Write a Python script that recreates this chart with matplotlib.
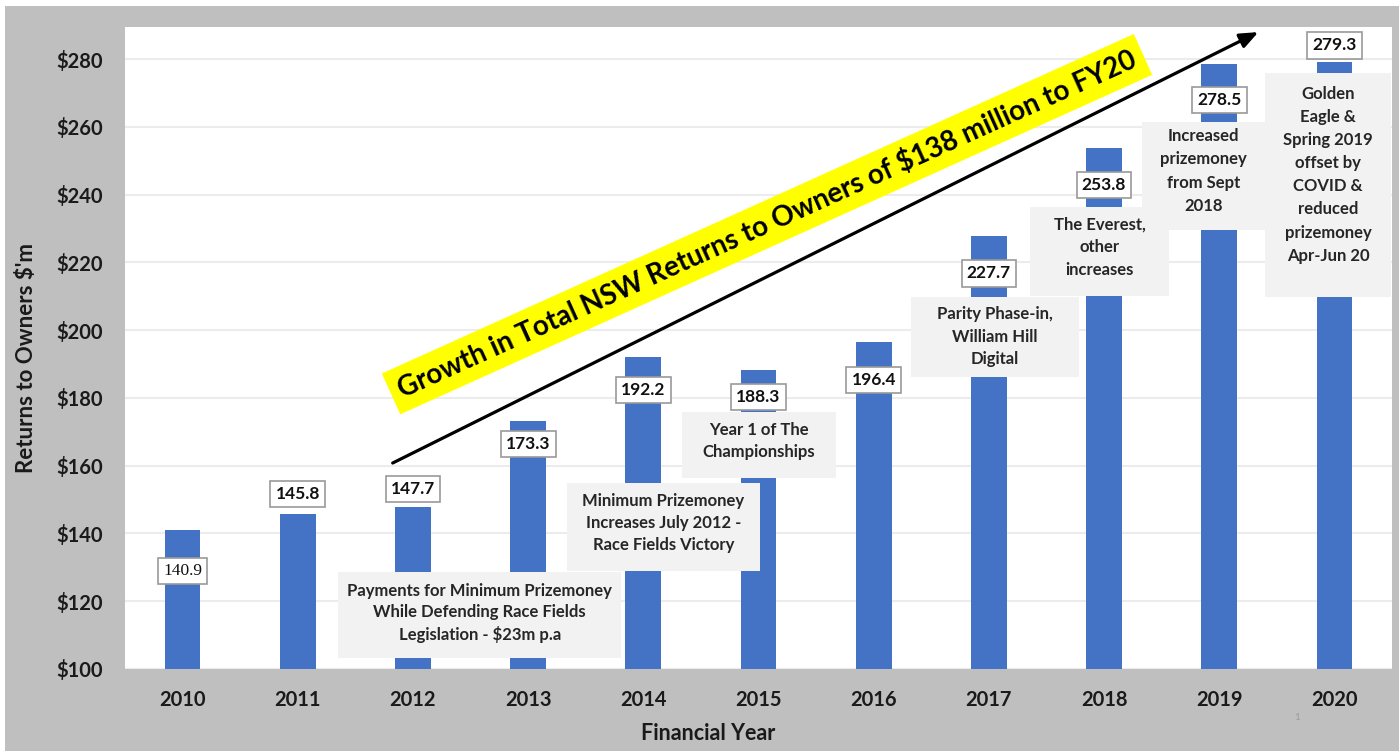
import matplotlib
matplotlib.use("Agg")
import matplotlib.pyplot as plt
from matplotlib.patches import Rectangle, FancyArrowPatch

# ---------------- data ----------------
years = ["2010", "2011", "2012", "2013", "2014", "2015", "2016", "2017", "2018", "2019", "2020"]
returns = [140.9, 145.8, 147.7, 173.3, 192.2, 188.3, 196.4, 227.7, 253.8, 278.5, 279.3]
value_labels = ["140.9", "145.8", "147.7", "173.3", "192.2", "188.3", "196.4", "227.7", "253.8", "278.5", "279.3"]
yticks = [100, 120, 140, 160, 180, 200, 220, 240, 260, 280]
ytick_labels = ["$100", "$120", "$140", "$160", "$180", "$200", "$220", "$240", "$260", "$280"]
notes = [
    "Payments for Minimum Prizemoney\nWhile Defending Race Fields\nLegislation - $23m p.a",
    "Minimum Prizemoney\nIncreases July 2012 -\nRace Fields Victory",
    "Year 1 of The\nChampionships",
    "Parity Phase-in,\nWilliam Hill\nDigital",
    "The Everest,\nother\nincreases",
    "Increased\nprizemoney\nfrom Sept\n2018",
    "Golden\nEagle &\nSpring 2019\noffset by\nCOVID &\nreduced\nprizemoney\nApr-Jun 20",
]
banner_text = "Growth in Total NSW Returns to Owners of $138 million to FY20"
x_title = "Financial Year"
y_title = "Returns to Owners $'m"

# ---------------- style ----------------
FONT = ["Lato", "DejaVu Sans"]
plt.rcParams["font.family"] = FONT
BAR = "#4472c4"
GRAYBG = "#bfbfbf"
NOTEBG = "#f2f2f2"

W, H = 1399, 751
fig = plt.figure(figsize=(W / 100, H / 100), dpi=100)
fig.patch.set_facecolor(GRAYBG)
# thin white strips at the top and left edge of the slide
fig.patches.append(Rectangle((0, 1 - 6 / H), 1, 6 / H, transform=fig.transFigure,
                             facecolor="white", edgecolor="none", zorder=-10))
fig.patches.append(Rectangle((0, 0), 5 / W, 1, transform=fig.transFigure,
                             facecolor="white", edgecolor="none", zorder=-10))

ax = fig.add_axes([125 / W, 1 - 669 / H, (1392 - 125) / W, (669 - 27) / H])
ax.set_facecolor("white")
ax.set_xlim(-0.5, 10.5)
ax.set_ylim(100, 289.5)
for s in ax.spines.values():
    s.set_visible(False)

xpos = list(range(len(years)))
ax.bar(xpos, returns, width=0.31, color=BAR, zorder=2)

ax.set_yticks(yticks)
ax.set_yticklabels(ytick_labels, fontsize=14.5, fontweight="bold", color="#1a1a1a")
ax.set_xticks(xpos)
ax.set_xticklabels(years, fontsize=14.5, fontweight="bold", color="#1a1a1a")
ax.tick_params(axis="y", length=0, pad=16)
ax.tick_params(axis="x", length=0, pad=15)
ax.yaxis.grid(True, color="#ececec", linewidth=1.5, zorder=0)
ax.set_axisbelow(True)

fig.text(708 / W, 1 - 733 / H, x_title, ha="center", va="center",
         fontsize=15.5, fontweight="bold", color="#1a1a1a")
fig.text(27 / W, 1 - 358 / H, y_title, ha="center", va="center", rotation=90,
         fontsize=16, fontweight="bold", color="#1a1a1a")

# annotation boxes (data coords): x0, x1, y0, y1, text centre y, line spacing
note_boxes = [
    (1.35, 3.81, 103.2, 128.6, 116.5, 1.4),
    (3.34, 5.01, 128.9, 154.9, 143.0, 1.45),
    (4.34, 5.67, 156.4, 175.8, 167.2, 1.45),
    (6.32, 7.78, 186.2, 209.8, 198.0, 1.5),
    (7.36, 8.56, 210.1, 236.3, 224.5, 1.55),
    (8.33, 9.40, 229.5, 261.4, 247.0, 1.55),
    (9.40, 10.49, 209.8, 275.9, 245.9, 1.55),
]
for (x0, x1, y0, y1, yc, ls), txt in zip(note_boxes, notes):
    ax.add_patch(Rectangle((x0, y0), x1 - x0, y1 - y0, facecolor=NOTEBG,
                           edgecolor="none", zorder=3))
    ax.text((x0 + x1) / 2, yc, txt, ha="center", va="center", fontsize=12,
            fontweight="bold", color="#262626", linespacing=ls, zorder=4)

# value labels
label_pos = [128.9, 151.6, 153.1, 166.4, 182.3, 180.3, 185.3, 216.8, 242.8, 267.9, 284.1]
for i, (lab, yp) in enumerate(zip(value_labels, label_pos)):
    kw = dict(fontweight="bold", family=FONT, fontsize=12.5)
    if i == 0:
        kw = dict(fontweight="normal", family=["Liberation Serif", "DejaVu Serif"], fontsize=12.5)
    ax.text(xpos[i], yp, lab, ha="center", va="center", color="#111111", zorder=6,
            bbox=dict(boxstyle="square,pad=0.3", facecolor="white", edgecolor="#9a9a9a",
                      linewidth=1.2), **kw)

# growth arrow
arrow = FancyArrowPatch((1.824, 160.8), (9.34, 288.0), arrowstyle="-|>,head_length=11,head_width=4.5",
                        color="black", linewidth=2.3, zorder=7, shrinkA=0, shrinkB=0)
ax.add_patch(arrow)

# banner
ax.text(5.074, 231.3, banner_text, ha="center", va="center", rotation=24.3,
        rotation_mode="anchor", fontsize=20, fontweight="bold", color="black", zorder=8,
        bbox=dict(boxstyle="square,pad=0.32", facecolor="#ffff00", edgecolor="none"))

fig.text(1297 / W, 1 - 718 / H, "1", fontsize=7, color="#9a9a9a", ha="center", va="center")

fig.savefig("out.png", dpi=100, facecolor=fig.get_facecolor())
